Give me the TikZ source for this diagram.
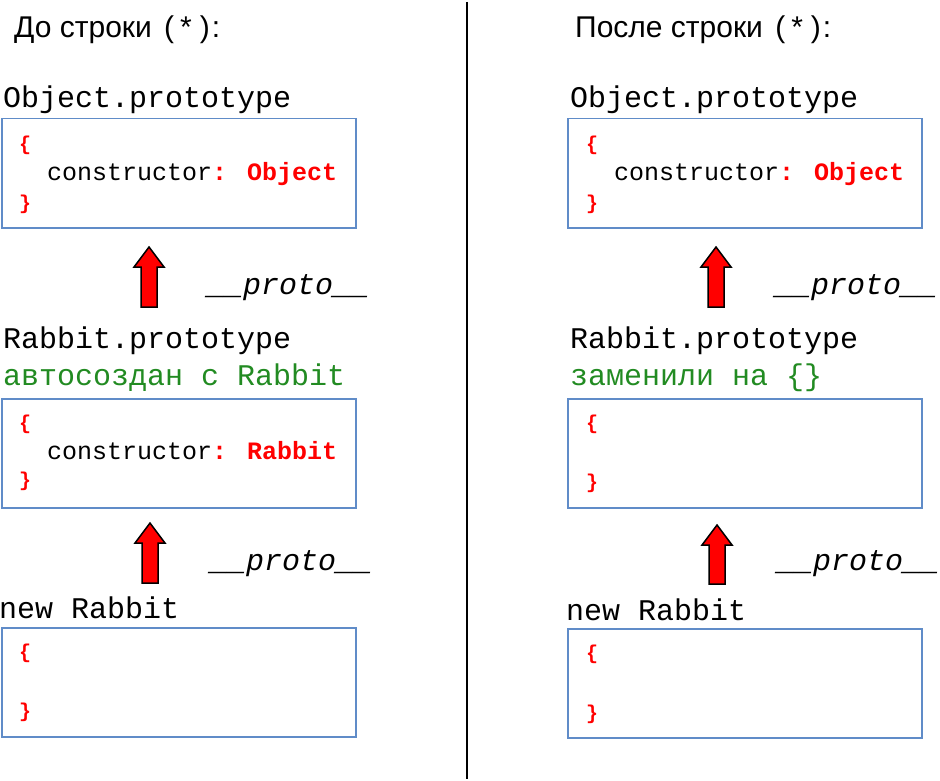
\documentclass[tikz,border=0pt]{standalone}
\usepackage{fontspec}
\setmainfont{Liberation Sans}
\newfontfamily\codefont{Liberation Mono}
\definecolor{boxblue}{RGB}{96,140,200}
\definecolor{codegreen}{RGB}{34,139,34}
\definecolor{codered}{RGB}{255,0,0}
\newcommand{\blockarrow}[3]{%
  \draw[blockarr] ({#1-8},#3) -- ({#1-8},{#2+20}) -- ({#1-15},{#2+20}) -- (#1,#2)
    -- ({#1+15},{#2+20}) -- ({#1+8},{#2+20}) -- ({#1+8},#3) -- cycle;}
\newcommand{\startext}{\hspace{4pt}(\hspace{6pt}*\hspace{8pt})\hspace{2pt}:}
\tikzset{
  codebox/.style={draw=boxblue, line width=1.5pt, minimum width=354pt, minimum height=109pt, anchor=north west, inner sep=0pt},
  lbl/.style={anchor=base west, inner sep=0pt, font=\codefont\fontsize{30}{30}\selectfont},
  greenlbl/.style={lbl, text=codegreen},
  protolbl/.style={lbl, font=\codefont\itshape\fontsize{30}{30}\selectfont},
  brace/.style={anchor=base west, inner sep=0pt, text=codered, font=\codefont\bfseries\fontsize{20}{20}\selectfont},
  ctor/.style={anchor=base west, inner sep=0pt, font=\codefont\fontsize{25}{25}\selectfont},
  title/.style={anchor=base west, inner sep=0pt, font=\fontsize{30}{30}\selectfont},
  blockarr/.style={fill=codered, draw=black, line width=1.5pt, line join=miter},
  divider/.style={line width=2pt}
}
\begin{document}
\begin{tikzpicture}[x=1pt, y=-1pt]
\useasboundingbox (0,0) rectangle (940,781);
\clip (0,0) rectangle (940,781);

% divider
\coordinate (dtop) at (467,2);
\coordinate (dbot) at (467,779);
\draw[divider] (dtop) -- (dbot);

% ---------- left ----------
\node[title] (tL) at (14,38) {До строки \startext};

\node[lbl] (opL) at (3,108) {Object.prototype};
\node[codebox] (boxOL) at (1,118) {};
\node[brace] (b1oL) at (19,150) {\{};
\node[ctor] (cOL) at (47,180) {constructor\textcolor{codered}{\bfseries: Object}};
\node[brace] (b1cL) at (19,209) {\}};

\blockarrow{149}{247}{307}
\node[protolbl] (p1L) at (207,294) {\_\_proto\_\_};

\node[lbl] (rpL) at (3,348) {Rabbit.prototype};
\node[greenlbl] (gL) at (3,385) {автосоздан с Rabbit};
\node[codebox] (boxRL) at (1,398) {};
\node[brace] (b2oL) at (19,429) {\{};
\node[ctor] (cRL) at (47,459) {constructor\textcolor{codered}{\bfseries: Rabbit}};
\node[brace] (b2cL) at (19,486) {\}};

\blockarrow{150}{523}{583}
\node[protolbl] (p2L) at (210,570) {\_\_proto\_\_};

\node[lbl] (nL) at (-1,618) {new Rabbit};
\node[codebox] (boxNL) at (1,627) {};
\node[brace] (b3oL) at (19,658) {\{};
\node[brace] (b3cL) at (19,717) {\}};

% ---------- right ----------
\node[title] (tR) at (575,38) {После строки \startext};

\node[lbl] (opR) at (570,108) {Object.prototype};
\node[codebox] (boxOR) at (567,118) {};
\node[brace] (b1oR) at (586,150) {\{};
\node[ctor] (cOR) at (614,180) {constructor\textcolor{codered}{\bfseries: Object}};
\node[brace] (b1cR) at (586,209) {\}};

\blockarrow{716}{247}{307}
\node[protolbl] (p1R) at (775,294) {\_\_proto\_\_};

\node[lbl] (rpR) at (570,348) {Rabbit.prototype};
\node[greenlbl] (gR) at (570,385) {заменили на \{\}};
\node[codebox] (boxRR) at (567,398) {};
\node[brace] (b2oR) at (586,429) {\{};
\node[brace] (b2cR) at (586,488) {\}};

\blockarrow{717}{525}{584}
\node[protolbl] (p2R) at (777,570) {\_\_proto\_\_};

\node[lbl] (nR) at (566,620) {new Rabbit};
\node[codebox] (boxNR) at (567,628) {};
\node[brace] (b3oR) at (586,659) {\{};
\node[brace] (b3cR) at (586,719) {\}};
\end{tikzpicture}
\end{document}
